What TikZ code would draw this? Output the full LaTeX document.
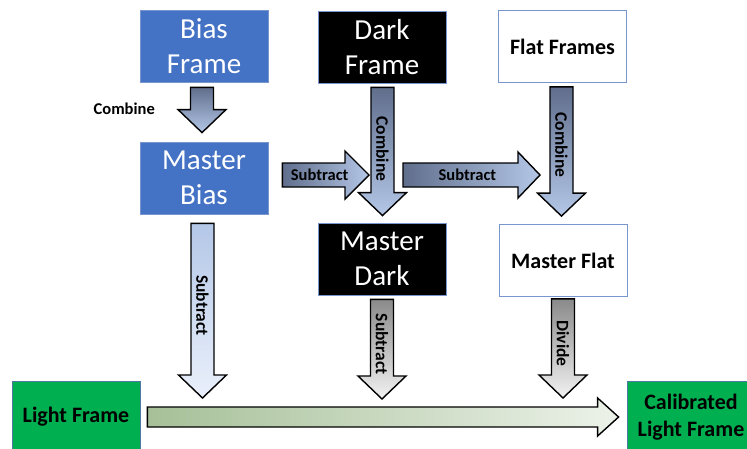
\documentclass[tikz,border=0pt]{standalone}
\usepackage{fontspec}
\setmainfont{Carlito}
\usetikzlibrary{calc}

\definecolor{azulcaja}{RGB}{68,114,196}
\definecolor{bordeazul}{RGB}{120,150,205}
\definecolor{verdecaja}{RGB}{0,176,80}
\definecolor{bordeverde}{RGB}{80,120,160}
\definecolor{pizarra}{RGB}{96,110,140}
\definecolor{azulclaro}{RGB}{180,199,231}
\definecolor{azulpalido}{RGB}{234,240,251}
\definecolor{grisosc}{RGB}{138,138,138}
\definecolor{grisclaro}{RGB}{242,242,242}
\definecolor{verdegris}{RGB}{166,192,152}
\definecolor{verdepalido}{RGB}{236,242,233}

% flecha de bloque hacia abajo
\newcommand{\flechav}[3]{%
  \path[#1] let \p1=(#2), \p2=(#3) in
    (\x1-11.5pt,\y1) -- (\x1+11.5pt,\y1) -- (\x1+11.5pt,\y2+23pt)
    -- (\x1+24pt,\y2+23pt) -- (\x1,\y2) -- (\x1-24pt,\y2+23pt)
    -- (\x1-11.5pt,\y2+23pt) -- cycle;}

% flecha de bloque hacia la derecha
\newcommand{\flechah}[6]{%
  \path[#1] let \p1=(#2), \p2=(#3) in
    (\x1,\y1+#4) -- (\x2-#6,\y1+#4) -- (\x2-#6,\y1+#5) -- (\x2,\y1)
    -- (\x2-#6,\y1-#5) -- (\x2-#6,\y1-#4) -- (\x1,\y1-#4) -- cycle;}

\tikzset{
  caja/.style={minimum width=128pt, minimum height=72pt, inner sep=0pt,
    align=center, line width=0.8pt},
  cajaazul/.style={caja, fill=azulcaja, draw=bordeazul, text=white,
    font=\fontsize{29}{35}\selectfont},
  cajanegra/.style={caja, fill=black, draw=bordeazul, text=white,
    font=\fontsize{29}{35}\selectfont},
  cajablanca/.style={caja, fill=white, draw=bordeazul,
    font=\fontsize{22}{27}\selectfont\bfseries},
  cajaverde/.style={caja, fill=verdecaja, draw=bordeverde,
    font=\fontsize{22}{27}\selectfont\bfseries},
  flecha/.style={draw=black, line width=1.4pt, line join=miter},
  combinar/.style={flecha, top color=pizarra, bottom color=azulclaro},
  restarh/.style={flecha, left color=pizarra, right color=azulclaro},
  restarv/.style={flecha, top color=azulclaro, bottom color=azulpalido},
  gris/.style={flecha, top color=grisosc, bottom color=grisclaro},
  larga/.style={flecha, left color=verdegris, right color=verdepalido},
  etiq/.style={font=\fontsize{16.5}{19}\selectfont\bfseries, inner sep=0pt},
  etiqv/.style={etiq, rotate=-90, font=\fontsize{17.5}{20}\selectfont\bfseries}
}

\begin{document}
\begin{tikzpicture}[x=1pt, y=-1pt]

    \useasboundingbox (0,0) rectangle (747,448);
    \clip (0,0) rectangle (747,448);

    % Cajas de la fila superior
    \node[cajaazul] (bias) at (204,46) {Bias\\Frame};
    \node[cajanegra] (dark) at (382,47) {Dark\\Frame};
    \node[cajablanca] (flat) at (562.5,46.5) {Flat Frames};

    % Cajas maestras
    \node[cajaazul] (mbias) at (204,178) {Master\\Bias};
    \node[cajanegra] (mdark) at (382,259) {Master\\Dark};
    \node[cajablanca] (mflat) at (563,260.5) {Master Flat};

    % Cajas de la fila inferior
    \node[cajaverde] (light) at (76,417) {Light Frame};
    \node[cajaverde] (calib) at (691,417) {Calibrated\\Light Frame};

    % Puntos de las flechas
    \coordinate (comb1a) at ($(bias.south)+(-2,5)$);
    \coordinate (comb1b) at ($(mbias.north)+(-2,-9)$);
    \coordinate (comb2a) at ($(dark.south)+(0.5,4)$);
    \coordinate (comb2b) at ($(mdark.north)+(0.5,-7)$);
    \coordinate (comb3a) at ($(flat.south)+(-1,4)$);
    \coordinate (comb3b) at ($(mflat.north)+(-1.5,-8)$);
    \coordinate (larga1) at ($(light.east)+(7,0)$);
    \coordinate (larga2) at ($(calib.west)+(-8,0)$);
    \coordinate (rest1a) at ($(mbias.south)+(-1.5,9)$);
    \coordinate (rest1b) at ($(mbias.south |- larga1)+(-1.5,-19)$);
    \coordinate (rest2a) at ($(mdark.south)+(0,4)$);
    \coordinate (rest2b) at ($(mdark.south |- larga1)+(0,-18)$);
    \coordinate (divia) at ($(mflat.south)+(0,2)$);
    \coordinate (divib) at ($(mflat.south |- larga1)+(0,-19)$);
    \coordinate (resth1a) at ($(mbias.east)+(14,-3)$);
    \coordinate (resth1b) at ($(mbias.east -| dark.south)+(-13,-3)$);
    \coordinate (resth2a) at ($(mbias.east -| dark.south)+(21,-3)$);
    \coordinate (resth2b) at ($(mbias.east -| flat.south)+(-22.5,-3)$);

    % Flechas de combinar
    \flechav{combinar}{comb1a}{comb1b}
    \node[etiq, anchor=east] (tcomb1) at ($(comb1a)!0.48!(comb1b)+(-47,0)$) {Combine};

    \flechah{restarh}{resth1a}{resth1b}{12pt}{24pt}{24pt}
    \flechah{restarh}{resth2a}{resth2b}{12pt}{23pt}{22pt}
    \node[etiq] (tresth1) at ($(resth1a)!0.43!(resth1b)$) {Subtract};
    \node[etiq] (tresth2) at ($(resth2a)!0.47!(resth2b)$) {Subtract};

    \flechav{combinar}{comb2a}{comb2b}
    \flechav{combinar}{comb3a}{comb3b}
    \node[etiqv] (tcomb2) at ($(comb2a)!0.48!(comb2b)$) {Combine};
    \node[etiqv] (tcomb3) at ($(comb3a)!0.45!(comb3b)$) {Combine};

    % Flecha larga hacia el resultado
    \flechah{larga}{larga1}{larga2}{10pt}{19pt}{21pt}

    % Flechas hacia la flecha larga
    \flechav{restarv}{rest1a}{rest1b}
    \flechav{gris}{rest2a}{rest2b}
    \flechav{gris}{divia}{divib}
    \node[etiqv] (trest1) at ($(rest1a)!0.47!(rest1b)$) {Subtract};
    \node[etiqv] (trest2) at ($(rest2a)!0.45!(rest2b)$) {Subtract};
    \node[etiqv] (tdivi) at ($(divia)!0.45!(divib)$) {Divide};

\end{tikzpicture}
\end{document}
